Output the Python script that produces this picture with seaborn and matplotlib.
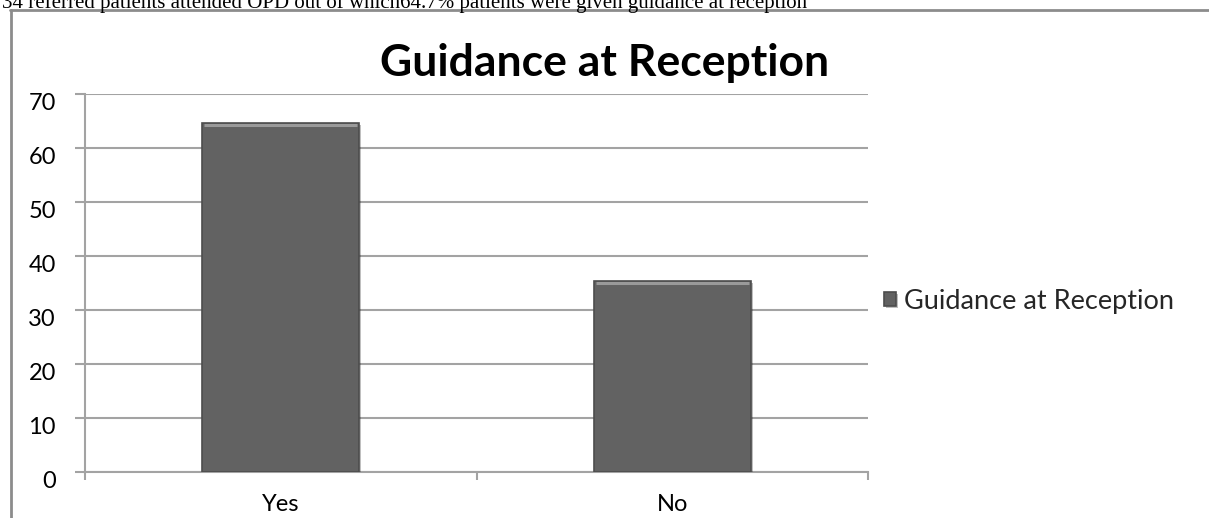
import matplotlib
matplotlib.use("Agg")
import matplotlib.pyplot as plt
import matplotlib.patheffects as pe
from matplotlib.lines import Line2D
from matplotlib.transforms import ScaledTranslation
import seaborn as sns
import pandas as pd

# Chart data
categories = ["Yes", "No"]
values = [64.7, 35.3]
series_name = "Guidance at Reception"
chart_title = "Guidance at Reception"
caption = ("34 referred patients attended OPD out of which64.7% patients were "
           "given guidance at reception")
y_ticks = [0, 10, 20, 30, 40, 50, 60, 70]

sns.set_theme(style="white")
plt.rcParams["font.family"] = ["Lato", "DejaVu Sans"]

W, H = 1209, 518
fig = plt.figure(figsize=(W / 100, H / 100), dpi=100)
fig.patch.set_facecolor("white")

ax = fig.add_axes([85 / W, 1 - 472 / H, (868 - 85) / W, (472 - 94) / H])

df = pd.DataFrame({"category": categories, "value": values, "series": series_name})
sns.barplot(data=df, x="category", y="value", hue="series", palette=["#626262"],
            width=0.40, ax=ax, saturation=1, edgecolor="#4d4d4d", linewidth=1.2,
            zorder=3)

# soft drop shadow and bevel-like edge on each bar
for bar in ax.patches:
    bar.set_path_effects([
        pe.SimplePatchShadow(offset=(1.5, -1.5), shadow_rgbFace="#000000", alpha=0.25),
        pe.Normal(),
    ])
    x0, w = bar.get_x(), bar.get_width()
    top = bar.get_height()
    ax.plot([x0 + 0.004, x0 + w - 0.004], [top - 0.35, top - 0.35],
            color="#9a9a9a", lw=2.2, zorder=4, solid_capstyle="butt")

ax.set_xlim(-0.5, 1.5)
ax.set_ylim(0, 70)
ax.set_yticks(y_ticks)
ax.set_xticks([0, 1])
ax.set_xticklabels(categories)
ax.set_xticks([-0.5, 0.5, 1.5], minor=True)
ax.set_xlabel("")
ax.set_ylabel("")

grid_c = "#a3a3a3"
ax.yaxis.grid(True, color=grid_c, linewidth=1.5, zorder=0)
ax.xaxis.grid(False)
for side in ["top", "right"]:
    ax.spines[side].set_visible(False)
ax.spines["left"].set_color(grid_c)
ax.spines["left"].set_linewidth(1.5)
ax.spines["bottom"].set_color(grid_c)
ax.spines["bottom"].set_linewidth(1.5)

ax.tick_params(axis="y", which="major", left=True, length=7, width=1.5,
               color=grid_c, labelsize=17, pad=14, labelcolor="black")
ax.tick_params(axis="x", which="major", bottom=False, labelsize=17, pad=10,
               labelcolor="black")
ax.tick_params(axis="x", which="minor", bottom=True, length=6, width=1.5,
               color=grid_c)
for lbl in ax.get_yticklabels():
    lbl.set_transform(lbl.get_transform() + ScaledTranslation(0, -7 / 100, fig.dpi_scale_trans))

# legend to the right of the plot
handles, labels = ax.get_legend_handles_labels()
leg = ax.legend(handles, labels, loc="center left",
                bbox_to_anchor=(884 / W, 1 - 301 / H), bbox_transform=fig.transFigure,
                frameon=False, fontsize=19.5, handlelength=0.45, handleheight=0.45,
                handletextpad=0.3, borderaxespad=0, borderpad=0)

# chart title
fig.text(605 / W, 1 - 76 / H, chart_title, ha="center", va="baseline",
         fontsize=32, fontweight="bold", color="black")

# outer chart frame
frame_c = "#8c8c8c"
fig.add_artist(Line2D([10 / W, 1.0], [1 - 9.5 / H, 1 - 9.5 / H], color=frame_c,
                      lw=2, transform=fig.transFigure))
fig.add_artist(Line2D([10.5 / W, 10.5 / W], [1 - 9.5 / H, 0], color=frame_c,
                      lw=2, transform=fig.transFigure))

# running caption above the chart, partly beyond the top edge
fig.text(2 / W, 1 - 8 / H, caption, ha="left", va="baseline", fontsize=15,
         family=["Liberation Serif", "DejaVu Serif"], color="black")

fig.savefig("out.png", dpi=100)
